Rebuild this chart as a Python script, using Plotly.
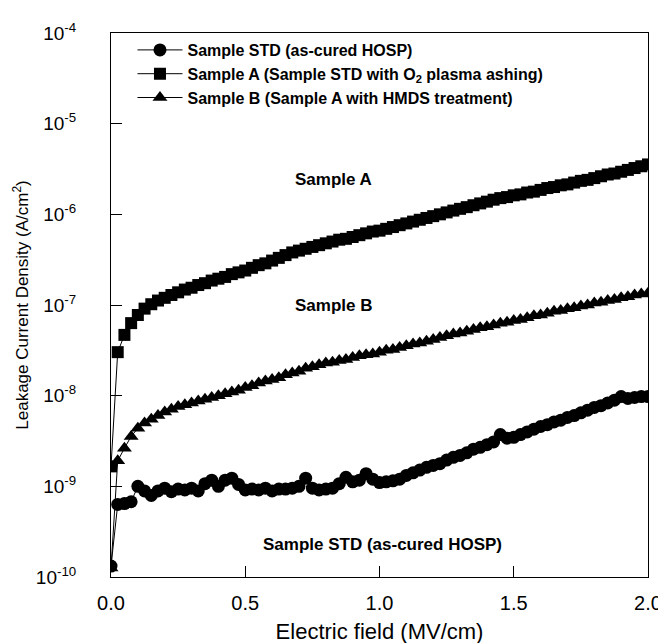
import plotly.graph_objects as go

# Electric field grid (MV/cm), 0.025 MV/cm steps as in the measurement
field = [round(i * 0.025, 3) for i in range(81)]

sample_std = [
    1.32e-10, 6.31e-10, 6.46e-10, 6.76e-10, 1.00e-9, 8.91e-10, 7.94e-10, 8.91e-10, 9.55e-10, 8.71e-10,
    9.33e-10, 9.12e-10, 9.55e-10, 8.91e-10, 1.07e-9, 1.17e-9, 1.00e-9, 1.17e-9, 1.23e-9, 1.05e-9,
    9.12e-10, 9.33e-10, 9.12e-10, 9.55e-10, 8.91e-10, 9.33e-10, 9.33e-10, 9.55e-10, 1.00e-9, 1.23e-9,
    9.55e-10, 9.12e-10, 9.33e-10, 9.55e-10, 1.07e-9, 1.26e-9, 1.12e-9, 1.17e-9, 1.38e-9, 1.20e-9,
    1.10e-9, 1.12e-9, 1.15e-9, 1.20e-9, 1.32e-9, 1.41e-9, 1.51e-9, 1.62e-9, 1.70e-9, 1.78e-9,
    1.95e-9, 2.09e-9, 2.19e-9, 2.34e-9, 2.57e-9, 2.69e-9, 2.88e-9, 3.09e-9, 3.72e-9, 3.39e-9,
    3.47e-9, 3.72e-9, 3.98e-9, 4.27e-9, 4.57e-9, 4.79e-9, 5.13e-9, 5.37e-9, 5.75e-9, 6.03e-9,
    6.46e-9, 6.92e-9, 7.41e-9, 7.76e-9, 8.32e-9, 8.91e-9, 9.77e-9, 9.33e-9, 9.55e-9, 9.77e-9,
    9.77e-9,
]

sample_a = [
    1.66e-9, 3.02e-8, 4.68e-8, 6.31e-8, 7.76e-8, 9.12e-8, 1.02e-7, 1.12e-7, 1.20e-7, 1.29e-7,
    1.38e-7, 1.48e-7, 1.55e-7, 1.66e-7, 1.74e-7, 1.86e-7, 1.95e-7, 2.04e-7, 2.19e-7, 2.29e-7,
    2.40e-7, 2.57e-7, 2.75e-7, 2.88e-7, 3.09e-7, 3.31e-7, 3.55e-7, 3.80e-7, 3.98e-7, 4.17e-7,
    4.37e-7, 4.57e-7, 4.79e-7, 5.01e-7, 5.25e-7, 5.37e-7, 5.62e-7, 5.89e-7, 6.17e-7, 6.46e-7,
    6.61e-7, 6.92e-7, 7.24e-7, 7.59e-7, 7.94e-7, 8.32e-7, 8.71e-7, 9.12e-7, 9.55e-7, 1.00e-6,
    1.05e-6, 1.10e-6, 1.15e-6, 1.20e-6, 1.26e-6, 1.32e-6, 1.38e-6, 1.45e-6, 1.51e-6, 1.55e-6,
    1.62e-6, 1.66e-6, 1.74e-6, 1.78e-6, 1.86e-6, 1.95e-6, 2.00e-6, 2.09e-6, 2.14e-6, 2.24e-6,
    2.34e-6, 2.40e-6, 2.51e-6, 2.63e-6, 2.75e-6, 2.82e-6, 2.95e-6, 3.09e-6, 3.24e-6, 3.39e-6,
    3.55e-6,
]

sample_b = [
    1.26e-10, 1.91e-9, 2.63e-9, 3.55e-9, 4.37e-9, 5.01e-9, 5.50e-9, 6.03e-9, 6.61e-9, 7.08e-9,
    7.59e-9, 7.94e-9, 8.32e-9, 8.71e-9, 9.12e-9, 9.55e-9, 1.00e-8, 1.05e-8, 1.10e-8, 1.15e-8,
    1.23e-8, 1.29e-8, 1.38e-8, 1.45e-8, 1.51e-8, 1.58e-8, 1.70e-8, 1.78e-8, 1.86e-8, 2.00e-8,
    2.09e-8, 2.19e-8, 2.29e-8, 2.34e-8, 2.45e-8, 2.51e-8, 2.63e-8, 2.75e-8, 2.82e-8, 2.88e-8,
    3.02e-8, 3.16e-8, 3.24e-8, 3.39e-8, 3.55e-8, 3.72e-8, 3.80e-8, 3.98e-8, 4.17e-8, 4.37e-8,
    4.57e-8, 4.79e-8, 4.90e-8, 5.13e-8, 5.37e-8, 5.62e-8, 5.75e-8, 6.03e-8, 6.31e-8, 6.46e-8,
    6.76e-8, 6.92e-8, 7.24e-8, 7.59e-8, 7.76e-8, 8.13e-8, 8.51e-8, 8.71e-8, 9.12e-8, 9.33e-8,
    9.77e-8, 1.00e-7, 1.05e-7, 1.07e-7, 1.12e-7, 1.15e-7, 1.20e-7, 1.23e-7, 1.29e-7, 1.32e-7,
    1.35e-7,
]

legend_names = [
    "<b>Sample STD (as-cured HOSP)</b>",
    "<b>Sample A (Sample STD with O<sub>2</sub> plasma ashing)</b>",
    "<b>Sample B (Sample A with HMDS treatment)</b>",
]

y_tickvals = [1e-10, 1e-9, 1e-8, 1e-7, 1e-6, 1e-5, 1e-4]
y_ticktext = ["10<sup>-10</sup>", "10<sup>-9</sup>", "10<sup>-8</sup>", "10<sup>-7</sup>",
              "10<sup>-6</sup>", "10<sup>-5</sup>", "10<sup>-4</sup>"]
x_tickvals = [0.0, 0.5, 1.0, 1.5, 2.0]
x_ticktext = ["0.0", "0.5", "1.0", "1.5", "2.0"]

FONT = "Liberation Sans, Arial, sans-serif"

fig = go.Figure()
series = [
    (sample_std, "circle", 13),
    (sample_a, "square", 12),
    (sample_b, "triangle-up", 13),
]
for (vals, sym, size), name in zip(series, legend_names):
    fig.add_trace(go.Scatter(
        x=field[:len(vals)], y=vals, mode="lines+markers", name=name,
        line=dict(color="black", width=1),
        marker=dict(symbol=sym, size=size, color="black"),
    ))

annotations = [
    dict(x=0.83, y=-5.62, text="<b>Sample A</b>"),
    dict(x=0.83, y=-7.0, text="<b>Sample B</b>"),
    dict(x=1.01, y=-9.64, text="<b>Sample STD (as-cured HOSP)</b>"),
]
for a in annotations:
    fig.add_annotation(x=a["x"], y=a["y"], text=a["text"], showarrow=False,
                       xref="x", yref="y", font=dict(family=FONT, size=17, color="black"))

fig.update_layout(
    width=666, height=643,
    margin=dict(l=103, r=17, t=22, b=72),
    paper_bgcolor="white", plot_bgcolor="white",
    font=dict(family=FONT, color="black"),
    showlegend=True,
    legend=dict(x=0.04, y=1.0, xanchor="left", yanchor="top",
                bgcolor="rgba(0,0,0,0)", font=dict(family=FONT, size=16, color="black"),
                tracegroupgap=0, itemwidth=45),
)
fig.update_xaxes(
    range=[0, 2.0], tickvals=x_tickvals, ticktext=x_ticktext,
    ticks="inside", ticklen=11, tickcolor="black", showline=True, linecolor="black",
    linewidth=1, mirror=True, showgrid=False, zeroline=False,
    tickfont=dict(family=FONT, size=20), ticklabelstandoff=8,
    title=dict(text="Electric field (MV/cm)", font=dict(family=FONT, size=22), standoff=10),
)
fig.update_yaxes(
    type="log", range=[-10, -4], tickvals=y_tickvals, ticktext=y_ticktext,
    ticks="inside", ticklen=11, tickcolor="black", showline=True, linecolor="black",
    linewidth=1, mirror=True, showgrid=False, zeroline=False,
    tickfont=dict(family=FONT, size=19), ticklabelstandoff=30,
    title=dict(text="Leakage Current Density (A/cm<sup>2</sup>)", font=dict(family=FONT, size=17), standoff=2),
)

fig.write_html("out.html")
